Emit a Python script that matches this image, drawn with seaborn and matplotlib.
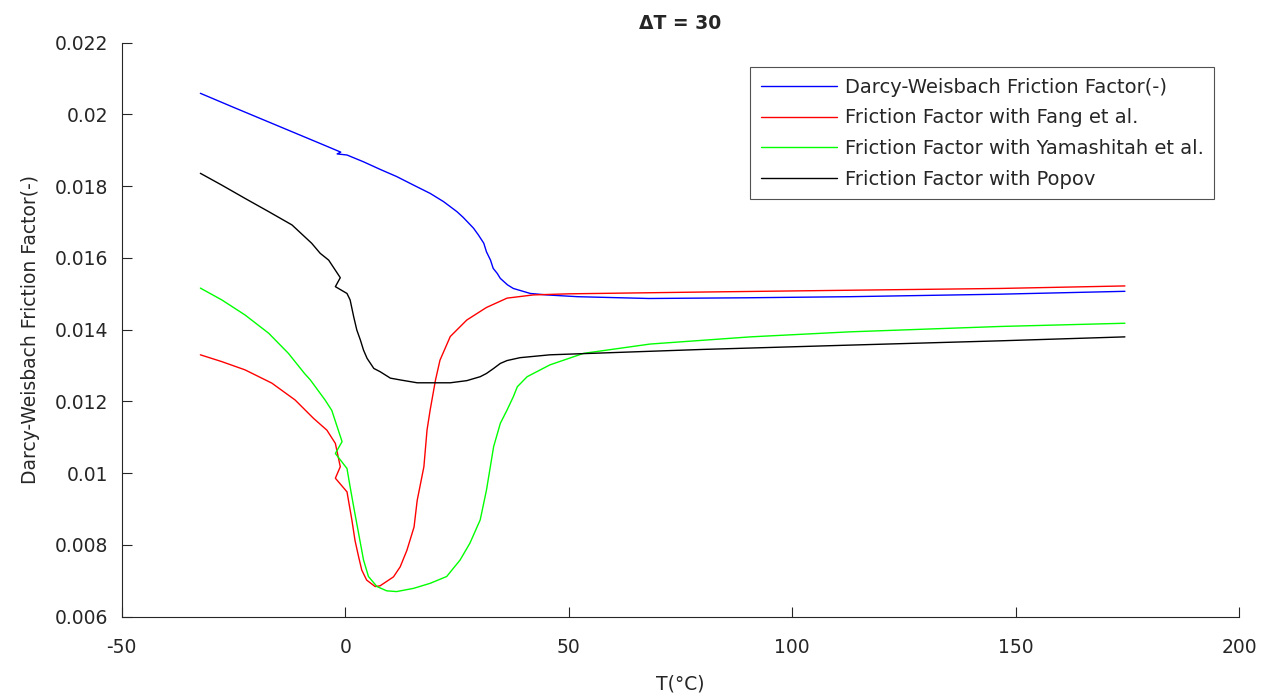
import matplotlib
matplotlib.use("Agg")
import matplotlib.pyplot as plt
import seaborn as sns
import pandas as pd

# ---- data ----
t_dw = [-32.4, -25, -20, -15, -10, -5, -1.0, -1.8, 0.4, 4.1, 7.8, 11.5, 15.3, 19, 22,
        25, 26.4, 28.7, 29.8, 31, 31.6, 32.5, 33.1, 34, 34.7, 36.3, 37.6, 41.4, 45, 52,
        68, 90, 112.8, 146.5, 174.4]
f_dw = [0.02059, 0.0202, 0.01994, 0.01968, 0.01942, 0.01916, 0.01895, 0.01890, 0.01887,
        0.01868, 0.01847, 0.01827, 0.01803, 0.0178, 0.01757, 0.01729, 0.01713, 0.01683,
        0.01664, 0.01641, 0.01617, 0.01594, 0.01571, 0.01557, 0.01543, 0.01525, 0.01515,
        0.01501, 0.01497, 0.01492, 0.01487, 0.01489, 0.01492, 0.01499, 0.01507]

t_fang = [-32.4, -27.6, -22.4, -16.4, -11.2, -7.1, -4.1, -2.2, -1.1, -2.2, 0.4, 1.5, 2.2,
          3, 3.7, 4.8, 6.7, 7.8, 10.8, 12.3, 13.8, 15.4, 16.1, 17.6, 18.3, 19, 20.2, 21.2,
          23.5, 27.2, 31.6, 36.2, 42.1, 50, 80, 112.8, 146.5, 174.4]
f_fang = [0.0133, 0.01311, 0.01288, 0.01251, 0.01204, 0.01153, 0.0112, 0.01083, 0.01018,
          0.00986, 0.00948, 0.00869, 0.00812, 0.00767, 0.0073, 0.00702, 0.00684, 0.00686,
          0.00711, 0.00739, 0.00785, 0.0085, 0.00924, 0.01018, 0.0112, 0.01176, 0.0126,
          0.01315, 0.01381, 0.01427, 0.01462, 0.01488, 0.01497, 0.015, 0.01505, 0.0151,
          0.01515, 0.01522]

t_yama = [-32.4, -27.6, -22.4, -17.1, -12.7, -9.1, -7.8, -4.5, -3.0, -0.7, -2.2, 0.4,
          1.1, 1.9, 3, 4.1, 5.2, 7.1, 9.3, 11.5, 15.3, 19, 22.7, 25.7, 27.9, 30.2, 31.6,
          33.2, 34.7, 36.2, 37.6, 38.5, 40.7, 45.8, 53.3, 68.2, 90.6, 112.8, 146.5, 174.4]
f_yama = [0.01516, 0.01483, 0.01441, 0.0139, 0.01334, 0.01278, 0.0126, 0.01204, 0.01175,
          0.01088, 0.01055, 0.01013, 0.00962, 0.00906, 0.00832, 0.00758, 0.00712, 0.00684,
          0.00672, 0.0067, 0.00679, 0.00693, 0.00712, 0.00758, 0.00805, 0.0087, 0.00953,
          0.01074, 0.01139, 0.01176, 0.01213, 0.01241, 0.01269, 0.01302, 0.01334, 0.0136,
          0.0138, 0.01394, 0.01409, 0.01418]

t_popov = [-32.4, -27.6, -22.4, -17.1, -11.9, -7.5, -5.6, -3.7, -1.1, -2.2, 0.4, 1.1, 1.9,
           2.6, 3.4, 4.1, 4.9, 6.4, 7.8, 10.1, 12.3, 16.1, 23.5, 27.2, 30.2, 31.6, 33.2,
           34.7, 36.2, 39.1, 45.8, 80, 112.8, 146.5, 174.4]
f_popov = [0.01836, 0.01803, 0.01766, 0.01729, 0.01692, 0.01641, 0.01613, 0.01594, 0.01545,
           0.0152, 0.01501, 0.01483, 0.01436, 0.01399, 0.01371, 0.01343, 0.0132, 0.01292,
           0.01283, 0.01265, 0.0126, 0.01252, 0.01252, 0.01258, 0.01269, 0.01278, 0.01292,
           0.01306, 0.01314, 0.01322, 0.0133, 0.01345, 0.01357, 0.01369, 0.0138]

labels = ["Darcy-Weisbach Friction Factor(-)",
          "Friction Factor with Fang et al.",
          "Friction Factor with Yamashitah et al.",
          "Friction Factor with Popov"]
colors = ["#0000ff", "#ff0000", "#00ff00", "#000000"]

x_ticks = [-50, 0, 50, 100, 150, 200]
y_ticks = [0.006, 0.008, 0.01, 0.012, 0.014, 0.016, 0.018, 0.02, 0.022]
y_tick_labels = ["0.006", "0.008", "0.01", "0.012", "0.014", "0.016", "0.018", "0.02", "0.022"]

# ---- styling ----
sns.set_style("ticks")
plt.rcParams["font.family"] = ["DejaVu Sans"]
plt.rcParams["font.size"] = 13
dark = "#262626"

fig = plt.figure(figsize=(12.74, 6.98), dpi=100)
ax = fig.add_axes([0.0955, 0.1165, 0.8773, 0.8223])

series = [(t_dw, f_dw), (t_fang, f_fang), (t_yama, f_yama), (t_popov, f_popov)]
for (t, f), lab, col in zip(series, labels, colors):
    df = pd.DataFrame({"T": t, "f": f})
    sns.lineplot(data=df, x="T", y="f", sort=False, estimator=None, color=col,
                 linewidth=1.0, label=lab, ax=ax)

ax.set_xlim(-50, 200)
ax.set_ylim(0.006, 0.022)
ax.set_xticks(x_ticks)
ax.set_xticklabels([str(v) for v in x_ticks])
ax.set_yticks(y_ticks)
ax.set_yticklabels(y_tick_labels)
ax.tick_params(direction="in", length=7, width=0.8, colors=dark, labelsize=13.5)
ax.tick_params(axis="x", pad=15)
ax.tick_params(axis="y", pad=9.5)
for s in ["top", "right"]:
    ax.spines[s].set_visible(False)
for s in ["left", "bottom"]:
    ax.spines[s].set_color(dark)
    ax.spines[s].set_linewidth(0.8)

ax.set_xlabel("T(°C)", fontsize=13.5, color=dark, labelpad=13)
ax.set_ylabel("Darcy-Weisbach Friction Factor(-)", fontsize=13.5, color=dark, labelpad=11)
ax.set_title("ΔT = 30", fontsize=13.5, fontweight="bold", pad=10)

leg = ax.legend(loc="upper right", bbox_to_anchor=(0.9774, 0.9577), borderaxespad=0,
                fontsize=14, frameon=True, fancybox=False, handlelength=3.9,
                handletextpad=0.4, labelspacing=0.6, borderpad=0.55)
leg.get_frame().set_edgecolor(dark)
leg.get_frame().set_linewidth(0.8)
for txt in leg.get_texts():
    txt.set_color(dark)

fig.savefig("out.png", dpi=100)
